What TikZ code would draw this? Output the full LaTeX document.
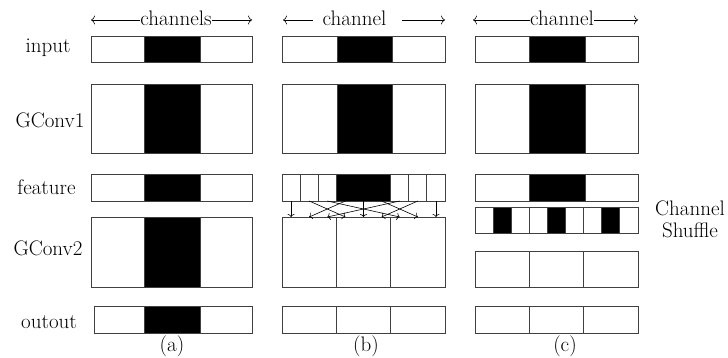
\documentclass[tikz,border=0pt]{standalone}
\usetikzlibrary{arrows.meta}
\begin{document}
\begin{tikzpicture}[x=1pt,y=-1pt,
  box/.style={draw=black!75, line width=0.8pt},
  lbl/.style={font=\fontsize{21}{24}\selectfont, inner sep=0pt},
  hdr/.style={-{To[length=4pt,width=9pt]}, line width=0.6pt},
  sharrow/.style={-{To[length=3pt,width=7pt]}, line width=0.6pt}]
\useasboundingbox[fill=white] (0,0) rectangle (728,358);

% ---- boxes with a black middle band
\foreach \xl/\xr/\bl/\br/\yt/\yb in {
  91/252/144/200/36/62, 91/252/144/200/84/153, 91/252/144/200/174/201,
  91/252/144/200/217/287, 94/252/144/200/306/333,
  282/445/337/392/36/62, 282/445/337/392/84/153,
  475/638/529/585/36/62, 475/638/529/585/84/153, 475/638/529/585/174/201}{
  \fill (\bl,\yt) rectangle (\br,\yb);
  \draw[box] (\xl,\yt) rectangle (\xr,\yb);
  \draw[box] (\bl,\yt) -- (\bl,\yb) (\br,\yt) -- (\br,\yb);
}

% ---- (b) feature row: 9 slots, middle three black
\fill (282+163*3/9,174) rectangle (282+163*6/9,201);
\draw[box] (282,174) rectangle (445,201);
\foreach \k in {1,2,3,6,7,8}{\draw[box] (282+163*\k/9,174) -- (282+163*\k/9,201);}

% ---- (b) GConv2 and output, split in three
\foreach \yt/\yb in {217/287, 306/333}{
  \draw[box] (282,\yt) rectangle (445,\yb);
  \draw[box] (282+163/3,\yt) -- (282+163/3,\yb) (282+326/3,\yt) -- (282+326/3,\yb);
}

% ---- (b) shuffle arrows
\foreach \k in {0,...,8}{
  \coordinate (s\k) at (282+163*\k/9+163/18,201);
  \coordinate (d\k) at (282+163*\k/9+163/18,217);
}
\foreach \i/\j in {0/0,1/3,2/6,3/1,4/4,5/7,6/2,7/5,8/8}{
  \draw[sharrow] (s\i) -- (d\j);
}

% ---- (c) shuffled row
\foreach \k in {1,4,7}{\fill (475+163*\k/9,207) rectangle (475+163*\k/9+163/9,233);
  \draw[box] (475+163*\k/9,207) -- (475+163*\k/9,233) (475+163*\k/9+163/9,207) -- (475+163*\k/9+163/9,233);}
\draw[box] (475,207) rectangle (638,233);
\draw[box] (475+163/3,207) -- (475+163/3,233) (475+326/3,207) -- (475+326/3,233);

% ---- (c) GConv2 and output
\foreach \yt/\yb in {251/287, 306/333}{
  \draw[box] (475,\yt) rectangle (638,\yb);
  \draw[box] (475+163/3,\yt) -- (475+163/3,\yb) (475+326/3,\yt) -- (475+326/3,\yb);
}

% ---- headers
\node[lbl, anchor=base] (ha) at (176,26) {channels};
\coordinate (hal) at (91,20);  \coordinate (har) at (252,20);
\draw[hdr] (ha.west |- hal) -- (hal);
\draw[hdr] (ha.east |- har) -- (har);

\node[lbl, anchor=base] (hb) at (354.5,26) {channel};
\coordinate (hbl) at (283,20); \coordinate (hbr) at (445,20);
\coordinate (hbls) at (313,20); \coordinate (hbrs) at (402,20);
\draw[hdr] (hbls) -- (hbl);
\draw[hdr] (hbrs) -- (hbr);

\node[lbl, anchor=base] (hc) at (562,26) {channel};
\coordinate (hcl) at (473,20); \coordinate (hcr) at (638,20);
\draw[hdr] (hc.west |- hcl) -- (hcl);
\draw[hdr] (hc.east |- hcr) -- (hcr);

% ---- row labels
\node[lbl] (linput) at (48,48) {input};
\node[lbl] (lg1) at (50,120) {GConv1};
\node[lbl] (lfeat) at (46.5,187) {feature};
\node[lbl] (lg2) at (48,248) {GConv2};
\node[lbl] (lout) at (49,322) {outout};

% ---- captions
\node[lbl] (capa) at (172,346) {(a)};
\node[lbl] (capb) at (366,346) {(b)};
\node[lbl] (capc) at (565,346) {(c)};

\node[lbl, align=center] (shuf) at (690,219) {Channel\\[-2pt]Shuffle};
\end{tikzpicture}
\end{document}
